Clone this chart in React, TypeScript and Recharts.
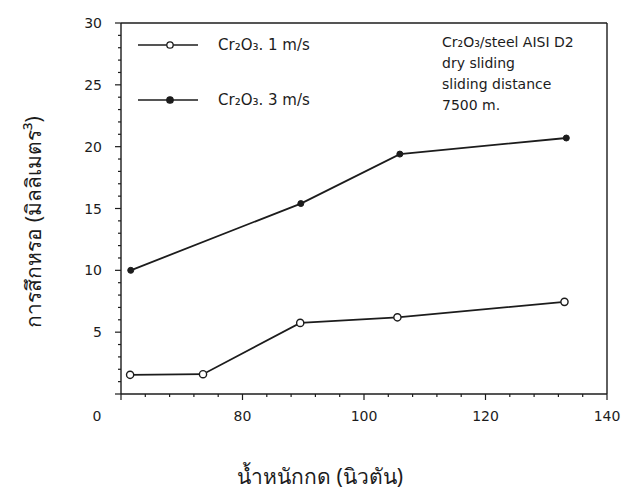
import React from 'react';
import { LineChart, Line, XAxis, YAxis, ReferenceLine, Customized } from 'recharts';

// load (N) vs wear volume (mm3)
const load1ms = [61.5, 73.5, 89.5, 105.5, 133];
const wear1ms = [1.55, 1.6, 5.75, 6.2, 7.45];
const load3ms = [61.6, 89.6, 105.9, 133.3];
const wear3ms = [10, 15.4, 19.4, 20.7];

const xTicks = [60, 64, 68, 72, 76, 80, 84, 88, 92, 96, 100, 104, 108, 112, 116, 120, 124, 128, 132, 136, 140];
const xLabels = [80, 100, 120, 140];
const yTicks = [0, 1, 2, 3, 4, 5, 6, 7, 8, 9, 10, 11, 12, 13, 14, 15, 16, 17, 18, 19, 20, 21, 22, 23, 24, 25, 26, 27, 28, 29, 30];
const yLabels = [0, 5, 10, 15, 20, 25, 30];

const legendItems = ['Cr\u2082O\u2083. 1 m/s', 'Cr\u2082O\u2083. 3 m/s'];
const noteLines = ['Cr\u2082O\u2083/steel AISI D2', 'dry sliding', 'sliding distance', '7500 m.'];

const series1 = load1ms.map((load, i) => ({ load, wear: wear1ms[i] }));
const series3 = load3ms.map((load, i) => ({ load, wear: wear3ms[i] }));

const INK = '#1c1c1c';
const TICK_FONT = 'DejaVu Sans, sans-serif';

const XTick = (props: any) => {
  const { x, y, payload } = props;
  const v = payload.value;
  const major = v % 20 === 0;
  return (
    <g>
      <line x1={x} x2={x} y1={y} y2={y + (major ? 6 : 3)} stroke={INK} strokeWidth={1.2} />
      {xLabels.includes(v) && (
        <text x={x} y={y + 27} textAnchor="middle" fontSize={14} fill={INK} fontFamily={TICK_FONT}>
          {v}
        </text>
      )}
    </g>
  );
};

const YTick = (props: any) => {
  const { x, y, payload } = props;
  const v = payload.value;
  const major = v % 5 === 0;
  return (
    <g>
      <line x1={x - (major ? 6 : 3)} x2={x} y1={y} y2={y} stroke={INK} strokeWidth={1.2} />
      {yLabels.includes(v) && (
        <text x={v === 0 ? x - 24 : x - 19} y={v === 0 ? y + 27 : y + 5} textAnchor={v === 0 ? 'middle' : 'end'} fontSize={14} fill={INK} fontFamily={TICK_FONT}>
          {v}
        </text>
      )}
    </g>
  );
};

const Annotations = () => (
  <g fill={INK} fontFamily={TICK_FONT}>
    {legendItems.map((label, i) => {
      const y = i === 0 ? 45 : 100;
      return (
        <g key={label}>
          <line x1={138} x2={198} y1={y} y2={y} stroke={INK} strokeWidth={1.5} />
          <circle cx={170} cy={y} r={3.2} fill={i === 0 ? '#fff' : INK} stroke={INK} strokeWidth={1.3} />
          <text x={218} y={y + 5} fontSize={15}>{label}</text>
        </g>
      );
    })}
    {noteLines.map((line, i) => (
      <text key={line} x={442} y={47 + i * 21} fontSize={14}>{line}</text>
    ))}
    <text x={320} y={484} textAnchor="middle" fontSize={21} fontFamily="Noto Sans, sans-serif">
      น้ำหนักกด (นิวตัน)
    </text>
    <text
      x={33}
      y={222}
      textAnchor="middle"
      dominantBaseline="central"
      fontSize={21}
      fontFamily="Noto Sans, sans-serif"
      transform="rotate(-90 33 222)"
    >
      การสึกหรอ (มิลลิเมตร³)
    </text>
  </g>
);

export default function App() {
  return (
    <div style={{ position: 'absolute', left: 0, top: 0, background: '#fff' }}>
      <LineChart width={621} height={498} margin={{ top: 23, right: 14, bottom: 74, left: 0 }}>
        <XAxis
          type="number"
          dataKey="load"
          domain={[60, 140]}
          ticks={xTicks}
          interval={0}
          tick={<XTick />}
          tickSize={0}
          tickMargin={0}
          tickLine={false}
          axisLine={{ stroke: INK, strokeWidth: 1.6 }}
          height={30}
          allowDataOverflow
        />
        <YAxis
          type="number"
          dataKey="wear"
          domain={[0, 30]}
          ticks={yTicks}
          interval={0}
          tick={<YTick />}
          tickSize={0}
          tickMargin={0}
          tickLine={false}
          axisLine={{ stroke: INK, strokeWidth: 1.4 }}
          width={121}
        />
        <ReferenceLine y={30} stroke={INK} strokeWidth={1.6} />
        <ReferenceLine x={140} stroke={INK} strokeWidth={1.4} />
        <Line
          data={series1}
          dataKey="wear"
          stroke={INK}
          strokeWidth={1.8}
          dot={{ r: 3.6, fill: '#fff', stroke: INK, strokeWidth: 1.4 }}
          isAnimationActive={false}
        />
        <Line
          data={series3}
          dataKey="wear"
          stroke={INK}
          strokeWidth={1.8}
          dot={{ r: 3, fill: INK, stroke: INK, strokeWidth: 1 }}
          isAnimationActive={false}
        />
        <Customized component={Annotations} />
      </LineChart>
    </div>
  );
}
